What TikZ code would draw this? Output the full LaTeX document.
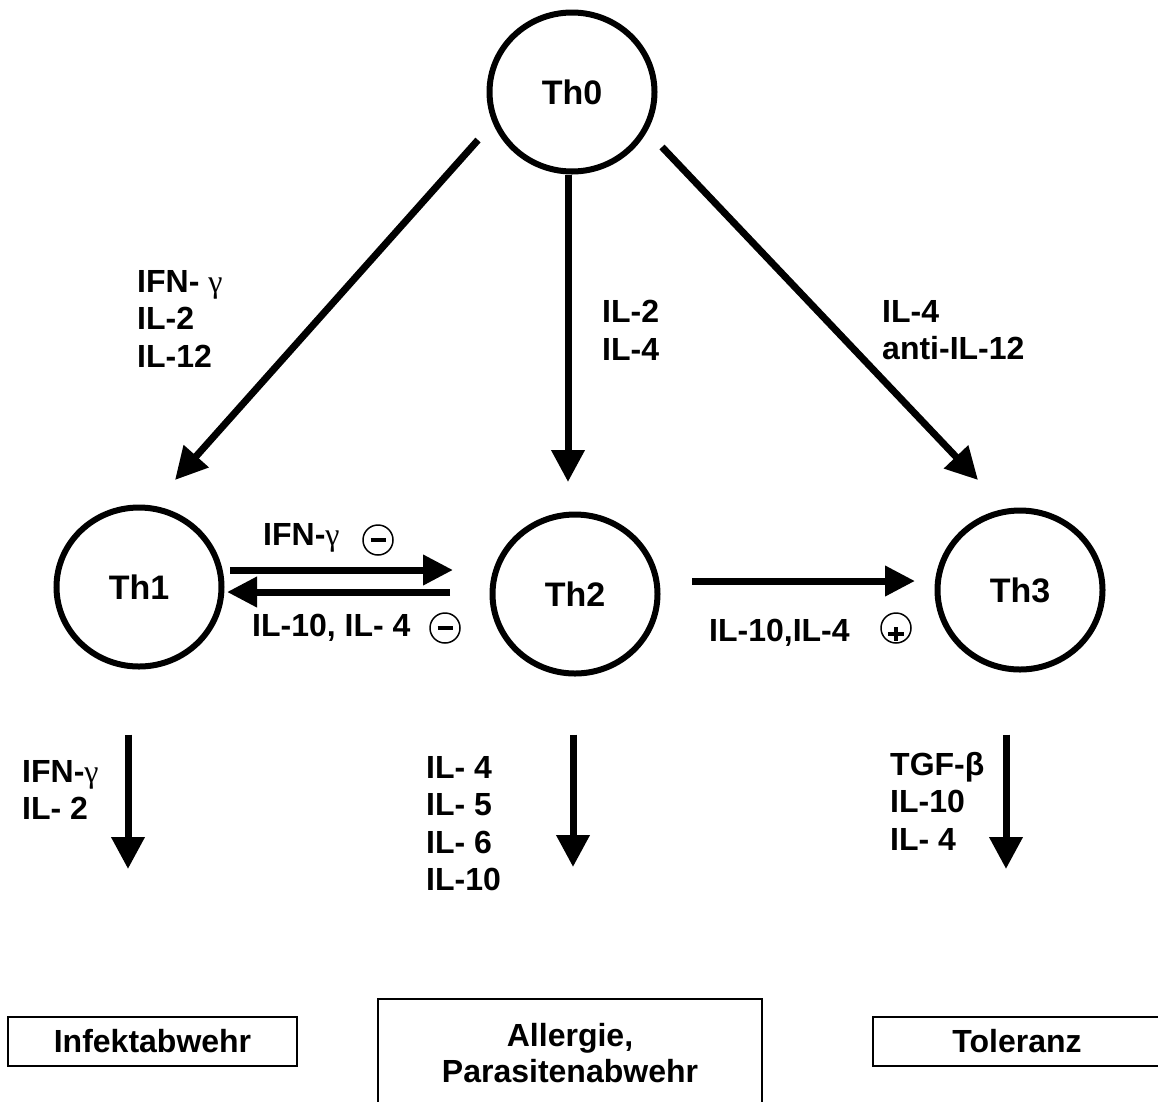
\documentclass[tikz,border=0pt]{standalone}
\usepackage{fontspec}
\setmainfont{Liberation Sans}
\newfontfamily\grk{Liberation Serif}
\usetikzlibrary{arrows.meta,shapes.geometric}

\begin{document}
\begin{tikzpicture}[x=1pt,y=-1pt,
  cell/.style={draw,ellipse,line width=6pt,minimum width=165pt,minimum height=159pt,
    font=\bfseries\fontsize{34}{38}\selectfont},
  lab/.style={anchor=north west,inner sep=0pt,align=left,
    font=\bfseries\fontsize{32}{37.5}\selectfont},
  res/.style={draw,line width=2pt,inner sep=0pt,align=center,
    font=\bfseries\fontsize{32}{36}\selectfont},
  sign/.style={draw,circle,line width=1.5pt,minimum size=30pt,inner sep=0pt},
  bar/.style={line width=4.5pt},
  arr/.style={line width=7pt,-{Triangle[length=32pt,width=32pt]}},
  harr/.style={line width=7pt,-{Triangle[length=30pt,width=29pt]}}]
\useasboundingbox (0,0) rectangle (1158,1101);

% T helper cells
\node[cell] (th0) at (572,92) {Th0};
\node[cell] (th1) at (139,587) {Th1};
\node[cell] (th2) at (575,594) {Th2};
\node[cell] (th3) at (1020,590) {Th3};

% outcome boxes
\node[res,minimum width=289pt,minimum height=49pt] (infekt) at (152.5,1041.5) {Infektabwehr};
\node[res,minimum width=384pt,minimum height=108pt] (allergie) at (570,1053) {Allergie,\\Parasitenabwehr};
\node[res,minimum width=288pt,minimum height=49pt] (toleranz) at (1017,1041.5) {Toleranz};

% differentiation from Th0
\draw[arr] ([shift={(-94,48)}]th0.center) -- ([shift={(36,-107)}]th1.center);
\draw[arr] ([xshift=-4pt]th0.south) -- ([shift={(-7,-112)}]th2.center);
\draw[arr] ([shift={(90,55)}]th0.center) -- ([shift={(-42,-110)}]th3.center);
\node[lab] (l01) at (137,270) {IFN- {\grk\mdseries γ}\\IL-2\\IL-12};
\node[lab] (l02) at (602,300) {IL-2\\IL-4};
\node[lab] (l03) at (882,300) {IL-4\\anti-IL-12};

% cross regulation
\draw[harr] ([shift={(91,-17)}]th1.center) -- ([shift={(-122,-24)}]th2.center);
\draw[harr] ([shift={(-125,-2)}]th2.center) -- ([shift={(88,5)}]th1.center);
\draw[harr] ([shift={(117,-13)}]th2.center) -- ([shift={(-105,-9)}]th3.center);
\node[lab] (l12) at (263,523) {IFN-{\grk\mdseries γ}};
\node[lab] (l21) at (252,614) {IL-10, IL- 4};
\node[lab] (l23) at (709,619) {IL-10,IL-4};
\node[sign] (m1) at (378,540) {};
\node[sign] (m2) at (445,628) {};
\node[sign] (p3) at (896,628) {};
\foreach \s in {m1,m2}
  \draw[bar] ([xshift=-7.5pt]\s.center) -- ([xshift=7.5pt]\s.center);
\draw[bar] ([shift={(-8,6)}]p3.center) -- ([shift={(8,6)}]p3.center);
\draw[bar] ([shift={(0,-1)}]p3.center) -- ([shift={(0,13)}]p3.center);

% secreted cytokines
\draw[arr] ([shift={(-11,65)}]th1.south) -- ([shift={(-24.5,-147)}]infekt.north);
\draw[arr] ([shift={(-2,58)}]th2.south) -- ([shift={(3,-131)}]allergie.north);
\draw[arr] ([shift={(-14,62)}]th3.south) -- ([shift={(-11,-147)}]toleranz.north);
\node[lab] (s1) at (22,760) {IFN-{\grk\mdseries γ}\\IL- 2};
\node[lab] (s2) at (426,756) {IL- 4\\IL- 5\\IL- 6\\IL-10};
\node[lab] (s3) at (890,752) {TGF-β\\IL-10\\IL- 4};
\end{tikzpicture}
\end{document}
